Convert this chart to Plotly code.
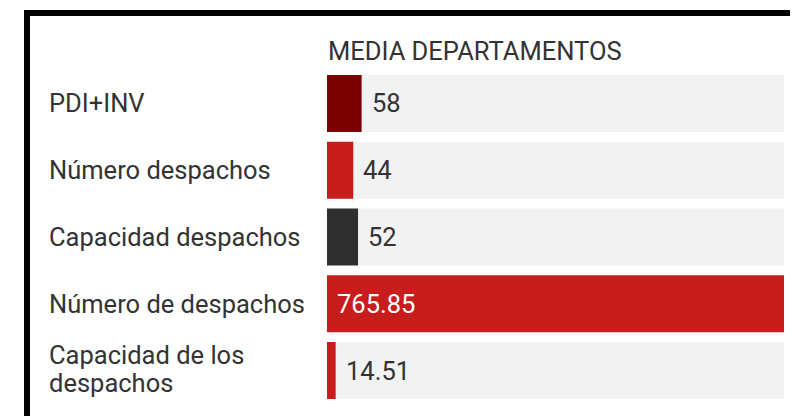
import plotly.graph_objects as go

# data
categories = ["PDI+INV", "Número despachos", "Capacidad despachos",
              "Número de despachos", "Capacidad de los<br>despachos"]
values = [58, 44, 52, 765.85, 14.51]
value_labels = ["58", "44", "52", "765.85", "14.51"]
bar_colors = ["#7b0000", "#c81d1d", "#2f2f2f", "#c81d1d", "#c81d1d"]
title_text = "MEDIA DEPARTAMENTOS"

# page has an 8px body margin, so the figure is a bit smaller than the window
W, H = 790, 408
R = 14
PW = W - R  # paper width in px (margin l = 0)
x0 = 319 / PW
FS = 25.5

vmax = max(values)

fig = go.Figure()

# grey track behind every bar
fig.add_trace(go.Bar(
    y=categories, x=[vmax] * len(values), orientation="h",
    marker=dict(color="#f2f2f2", line_width=0),
    hoverinfo="skip", showlegend=False,
))
fig.add_trace(go.Bar(
    y=categories, x=values, orientation="h",
    marker=dict(color=bar_colors, line_width=0),
    showlegend=False,
))

# value labels: inside (white) for the big bar, outside otherwise
for cat, v, lab in zip(categories, values, value_labels):
    inside = v > vmax * 0.5
    fig.add_annotation(
        x=0 if inside else v, y=cat, xref="x", yref="y",
        text=lab, showarrow=False, xanchor="left", xshift=8,
        font=dict(size=FS, color="white" if inside else "#333333"),
    )

# category labels, left aligned (multi-line ones drawn line by line)
for cat in categories:
    lines = cat.split("<br>")
    n = len(lines)
    for i, line in enumerate(lines):
        shift = 0 if n == 1 else ((n - 1) / 2 - i) * 28 + 1.5
        fig.add_annotation(
            x=39 / PW, y=cat, xref="paper", yref="y",
            text=line, showarrow=False, xanchor="left", align="left",
            yshift=shift, font=dict(size=FS, color="#333333"),
        )

fig.add_annotation(
    x=x0, y=(H - 43) / H, xref="paper", yref="paper",
    text=title_text, showarrow=False, xanchor="left", yanchor="middle",
    xshift=-1, font=dict(size=25.5, color="#333333"),
)

# black frame on top and left
fig.add_shape(type="line", xref="paper", yref="paper",
              x0=16 / PW, x1=(W + 10) / PW, y0=(H - 5) / H, y1=(H - 5) / H,
              line=dict(color="black", width=6))
fig.add_shape(type="line", xref="paper", yref="paper",
              x0=19 / PW, x1=19 / PW, y0=(H - 2) / H, y1=-0.1,
              line=dict(color="black", width=6))

fig.update_layout(
    width=W, height=H,
    margin=dict(l=0, r=R, t=0, b=0),
    paper_bgcolor="white", plot_bgcolor="white",
    barmode="overlay", bargap=0.146,
    font=dict(family="Roboto", color="#333333"),
    xaxis=dict(domain=[x0, 1], range=[0, vmax], visible=False, fixedrange=True),
    yaxis=dict(domain=[(H - 395.9) / H, (H - 62.1) / H], autorange="reversed",
               showticklabels=False, showgrid=False, zeroline=False, fixedrange=True),
)

fig.write_html("out.html")
